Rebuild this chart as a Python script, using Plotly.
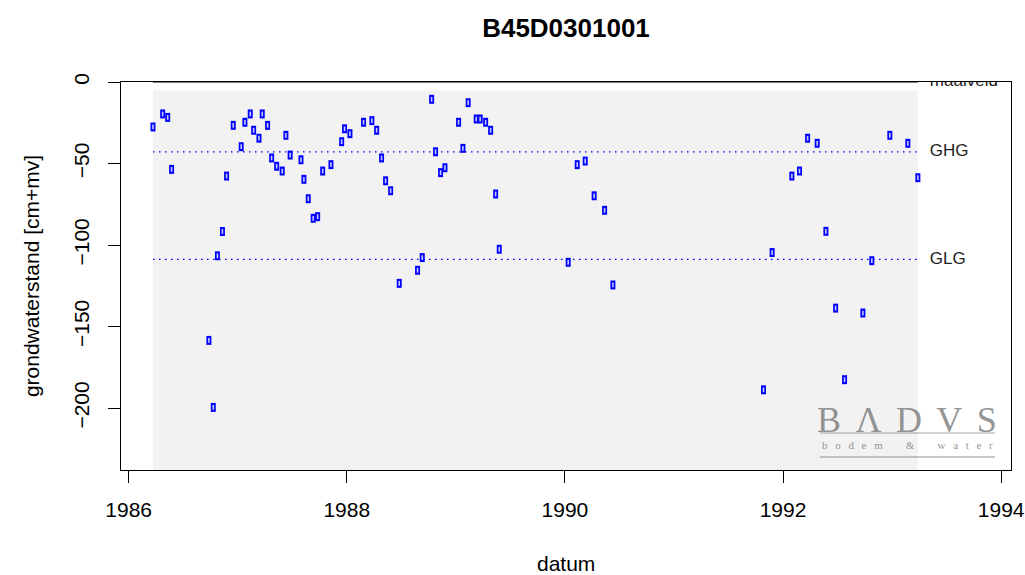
import plotly.graph_objects as go

# ---- data ----
dates = [1986.223, 1986.312, 1986.358, 1986.394, 1986.736, 1986.776, 1986.814, 1986.860,
         1986.898, 1986.959, 1987.032, 1987.066, 1987.115, 1987.146, 1987.195, 1987.225,
         1987.274, 1987.311, 1987.357, 1987.408, 1987.442, 1987.481, 1987.580, 1987.607,
         1987.647, 1987.692, 1987.733, 1987.779, 1987.855, 1987.953, 1987.980, 1988.029,
         1988.154, 1988.230, 1988.274, 1988.319, 1988.356, 1988.402, 1988.481, 1988.649,
         1988.692, 1988.778, 1988.814, 1988.860, 1988.900, 1989.025, 1989.065, 1989.113,
         1989.187, 1989.223, 1989.273, 1989.319, 1989.365, 1989.398, 1990.030, 1990.113,
         1990.186, 1990.268, 1990.364, 1990.440, 1991.821, 1991.900, 1992.081, 1992.151,
         1992.225, 1992.313, 1992.393, 1992.482, 1992.564, 1992.732, 1992.814, 1992.979,
         1993.144, 1993.236]
levels = [-27.6, -19.6, -21.7, -53.6, -158.5, -199.6, -106.6, -91.7,
          -57.7, -26.6, -39.7, -24.7, -19.6, -29.6, -34.5, -19.6,
          -26.6, -46.6, -51.7, -54.6, -32.7, -44.8, -47.7, -59.7,
          -71.6, -83.6, -82.6, -54.6, -50.7, -36.6, -28.7, -31.7,
          -24.7, -23.7, -29.6, -46.6, -60.6, -66.7, -123.5, -115.5,
          -107.7, -10.6, -42.8, -55.6, -52.6, -24.7, -40.7, -12.7,
          -22.7, -22.7, -24.7, -29.6, -68.7, -102.6, -110.6, -50.7,
          -48.5, -69.8, -78.7, -124.5, -188.8, -104.6, -57.7, -54.6,
          -34.5, -37.6, -91.6, -138.7, -182.6, -141.7, -109.6, -32.7,
          -37.6, -58.7]

MAAIVELD = 0.0
GHG = -42.9
GLG = -108.8
GREY_TOP = -5.0

x_ticks = [1986, 1988, 1990, 1992, 1994]
y_ticks = [0, -50, -100, -150, -200]
X_RANGE = [1985.93, 1994.09]
Y_RANGE = [-238.0, 0.0]

TITLE = "B45D0301001"

FONT = "Liberation Sans, Arial, sans-serif"

fig = go.Figure()

d0, d1 = min(dates), max(dates)

# grey background covering the measurement period
fig.add_shape(type="rect", xref="x", yref="y", x0=d0, x1=d1, y0=Y_RANGE[0], y1=GREY_TOP,
              fillcolor="#f2f2f2", line_width=0, layer="below")

# reference lines
fig.add_trace(go.Scatter(x=[d0, d1], y=[MAAIVELD, MAAIVELD], mode="lines",
                         line=dict(color="black", width=1), hoverinfo="skip", showlegend=False))
for lv in (GHG, GLG):
    fig.add_trace(go.Scatter(x=[d0, d1], y=[lv, lv], mode="lines",
                             line=dict(color="#0000ff", width=1.3, dash="1.6px,4.4px"),
                             hoverinfo="skip", showlegend=False))

# measurement markers (small open rectangles)
fig.add_trace(go.Scatter(x=dates, y=levels, mode="markers",
                         marker=dict(symbol="line-ns", size=6.4,
                                     line=dict(color="blue", width=5)),
                         showlegend=False))
fig.add_trace(go.Scatter(x=dates, y=levels, mode="markers",
                         marker=dict(symbol="line-ns", size=3.4,
                                     line=dict(color="#c8c8ff", width=1.6)),
                         hoverinfo="skip", showlegend=False))

# labels for the reference lines (clipped to the plot area)
lab_x = d1 + 0.11
fig.add_trace(go.Scatter(x=[lab_x, lab_x, lab_x], y=[MAAIVELD, GHG, GLG],
                         mode="text", text=["maaiveld", "GHG", "GLG"],
                         textposition="middle right", cliponaxis=True,
                         textfont=dict(family=FONT, size=17, color="#222"),
                         hoverinfo="skip", showlegend=False))

# logo
logo_col = "rgba(120,120,120,0.8)"
fig.add_annotation(xref="paper", yref="paper", x=0.8835, y=0.128, xanchor="center", yanchor="middle",
                   text="B\u2009\u2009\u039b\u2009\u2009D\u2009\u2009V\u2009\u2009S", showarrow=False,
                   font=dict(family="Liberation Serif, serif", size=36, color=logo_col))
sep = "\u2002\u2009"
sub = sep.join("bodem") + sep * 3 + "&" + sep * 3 + sep.join("water")
fig.add_annotation(xref="paper", yref="paper", x=0.8835, y=0.064, xanchor="center", yanchor="middle",
                   text=sub, showarrow=False,
                   font=dict(family="Liberation Serif, serif", size=11, color=logo_col))
fig.add_shape(type="line", xref="paper", yref="paper", x0=0.785, x1=0.982, y0=0.0954, y1=0.0954,
              line=dict(color="rgba(140,140,140,0.8)", width=1.2))
fig.add_shape(type="line", xref="paper", yref="paper", x0=0.785, x1=0.982, y0=0.0335, y1=0.0335,
              line=dict(color="rgba(160,160,160,0.8)", width=1.5))

# axis titles
fig.add_annotation(xref="paper", yref="paper", x=0.5, y=-0.2397, xanchor="center", yanchor="middle",
                   text="datum", showarrow=False, font=dict(family=FONT, size=21, color="black"))
fig.add_annotation(xref="paper", yref="paper", x=-0.101, y=0.5, xanchor="center", yanchor="middle",
                   text="grondwaterstand [cm+mv]", textangle=-90, showarrow=False,
                   font=dict(family=FONT, size=21, color="black"))

axis_common = dict(showgrid=False, zeroline=False, showline=True, mirror=True,
                   linecolor="black", linewidth=1.3, ticks="outside", ticklen=12,
                   tickcolor="black", tickwidth=1.3, automargin=False,
                   tickfont=dict(family=FONT, size=21, color="black"))

fig.update_xaxes(range=X_RANGE, tickvals=x_ticks, ticktext=[str(v) for v in x_ticks],
                 ticklabelstandoff=9, **axis_common)
fig.update_yaxes(range=Y_RANGE, tickvals=y_ticks, tickangle=-90,
                 ticklabelstandoff=10, **axis_common)

fig.update_layout(
    width=1025, height=575,
    margin=dict(l=121, r=14, t=82, b=105),
    plot_bgcolor="white", paper_bgcolor="white",
    title=dict(text="<b>" + TITLE + "</b>", x=0.5, xref="paper", xanchor="center",
               y=1 - 28 / 575, yref="container", yanchor="middle",
               font=dict(family=FONT, size=26, color="black")),
    font=dict(family=FONT),
)

fig.write_html("out.html", config={"displayModeBar": False},
               post_script="document.body.style.margin='0';document.body.style.overflow='hidden';")
